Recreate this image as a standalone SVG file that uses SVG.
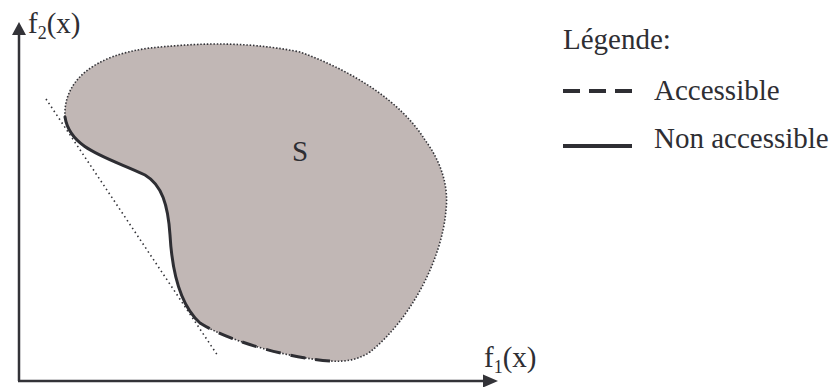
<svg xmlns="http://www.w3.org/2000/svg" width="831" height="387" viewBox="0 0 831 387">
<style>
.t{font-family:"Liberation Serif","Times New Roman",serif;font-size:29px;fill:#2e2e33}
.sub{font-size:18px}
.ax{stroke:#333338;stroke-width:2.5;fill:none}
.dot{stroke:#333338;stroke-width:1.6;fill:none;stroke-dasharray:1.5 1.8}
.tan{stroke:#333338;stroke-width:1.6;fill:none;stroke-dasharray:1.5 3.2}
.solid{stroke:#2e2e33;stroke-width:3;fill:none;stroke-linecap:round}
.dash{stroke:#2e2e33;stroke-width:3;fill:none;stroke-dasharray:15 10}
</style>
<rect width="831" height="387" fill="#ffffff"/>
<g id="axes">
  <line class="ax" x1="19" y1="381" x2="19" y2="34"/>
  <line class="ax" x1="18" y1="381" x2="485" y2="381"/>
  <polygon points="19,22 12,35 26,35" fill="#333338"/>
  <polygon points="498,381 483,374.5 483,387.5" fill="#333338"/>
  <text class="t" x="28" y="33">f<tspan class="sub" y="39">2</tspan><tspan y="33">(x)</tspan></text>
  <text class="t" x="484" y="367">f<tspan class="sub" y="373">1</tspan><tspan y="367">(x)</tspan></text>
</g>
<g id="region-S">
  <path fill="#c1b7b5" d="M65,117 C63,80 95,55 150,48 C190,44 240,40 300,52 C350,70 400,100 425,140 C440,160 449,185 446,210 C442,260 410,320 370,352 C358,360 345,362 330,361 C290,358 230,342 200,323 C180,305 172,270 170,235 C168,205 162,185 145,175 C110,158 70,150 65,117 Z"/>
  <path class="dot" d="M65,117 C63,80 95,55 150,48 C190,44 240,40 300,52 C350,70 400,100 425,140 C440,160 449,185 446,210 C442,260 410,320 370,352 C358,360 345,362 330,361 C290,358 230,342 200,323"/>
  <text class="t" x="292" y="161">S</text>
</g>
<g id="connectors">
  <line class="tan" x1="46" y1="99" x2="218" y2="356"/>
  <path class="dash" d="M330,361 C290,358 230,342 200,323"/>
  <path class="solid" d="M200,323 C180,305 172,270 170,235 C168,205 162,185 145,175 C110,158 70,150 65,117"/>
</g>
<g id="legend">
  <text class="t" x="563" y="49">Légende:</text>
  <line x1="563" y1="91" x2="632" y2="91" stroke="#2e2e33" stroke-width="4" stroke-dasharray="17 9"/>
  <text class="t" x="654" y="100">Accessible</text>
  <line x1="563" y1="146" x2="632" y2="146" stroke="#2e2e33" stroke-width="4"/>
  <text class="t" x="654" y="148">Non accessible</text>
</g>
</svg>
